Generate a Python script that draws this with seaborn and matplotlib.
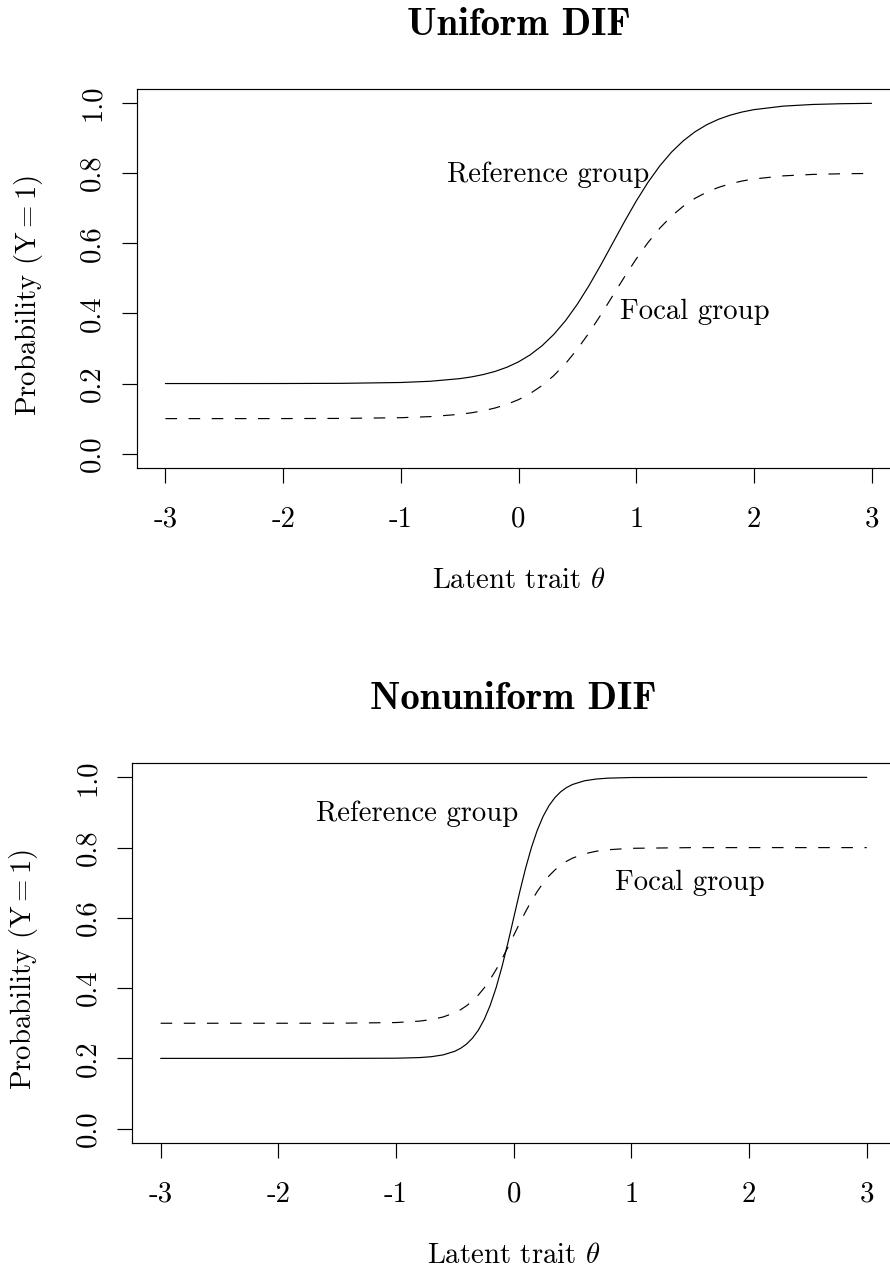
import matplotlib
matplotlib.use("Agg")
import matplotlib.pyplot as plt
import pandas as pd
import seaborn as sns

# Probability of Y=1 along the latent trait, for the two groups of each panel
theta_uniform = [-3.0, -2.5, -2.0, -1.5, -1.0, -0.75, -0.5, -0.4, -0.3, -0.2, -0.1,
                 0.0, 0.1, 0.2, 0.3, 0.4, 0.5, 0.6, 0.7, 0.8, 0.9, 1.0, 1.1, 1.2,
                 1.3, 1.4, 1.5, 1.6, 1.7, 1.8, 1.9, 2.0, 2.25, 2.5, 2.75, 3.0]
ref_uniform = [0.2000, 0.2000, 0.2001, 0.2006, 0.2030, 0.2065, 0.2140, 0.2189, 0.2256,
               0.2345, 0.2463, 0.2618, 0.2820, 0.3078, 0.3401, 0.3795, 0.4263, 0.4798,
               0.5385, 0.6000, 0.6615, 0.7202, 0.7737, 0.8205, 0.8599, 0.8922, 0.9180,
               0.9382, 0.9537, 0.9655, 0.9744, 0.9811, 0.9912, 0.9959, 0.9981, 0.9991]
foc_uniform = [0.1000, 0.1000, 0.1001, 0.1006, 0.1026, 0.1057, 0.1122, 0.1166, 0.1224,
               0.1302, 0.1405, 0.1541, 0.1717, 0.1943, 0.2226, 0.2571, 0.2981, 0.3448,
               0.3962, 0.4500, 0.5038, 0.5552, 0.6019, 0.6429, 0.6774, 0.7057, 0.7283,
               0.7459, 0.7595, 0.7698, 0.7776, 0.7834, 0.7923, 0.7964, 0.7983, 0.7992]

theta_nonuniform = [-3.0, -2.0, -1.5, -1.0, -0.8, -0.7, -0.6, -0.5, -0.45, -0.4, -0.35,
                    -0.3, -0.25, -0.2, -0.15, -0.1, -0.05, 0.0, 0.05, 0.1, 0.15, 0.2,
                    0.25, 0.3, 0.35, 0.4, 0.45, 0.5, 0.6, 0.7, 0.8, 1.0, 1.5, 2.0, 3.0]
ref_nonuniform = [0.2000, 0.2000, 0.2000, 0.2005, 0.2023, 0.2048, 0.2099, 0.2203, 0.2289,
                  0.2409, 0.2577, 0.2805, 0.3111, 0.3508, 0.4005, 0.4602, 0.5278, 0.6000,
                  0.6722, 0.7398, 0.7995, 0.8492, 0.8889, 0.9195, 0.9423, 0.9591, 0.9711,
                  0.9797, 0.9901, 0.9952, 0.9977, 0.9995, 1.0000, 1.0000, 1.0000]
foc_nonuniform = [0.3000, 0.3000, 0.3001, 0.3020, 0.3061, 0.3104, 0.3178, 0.3300, 0.3388,
                  0.3499, 0.3637, 0.3806, 0.4009, 0.4249, 0.4524, 0.4829, 0.5158, 0.5500,
                  0.5842, 0.6171, 0.6476, 0.6751, 0.6991, 0.7195, 0.7363, 0.7501, 0.7612,
                  0.7700, 0.7822, 0.7896, 0.7939, 0.7980, 0.7999, 0.8000, 0.8000]

groups = ["Reference group", "Focal group"]
x_ticks = [-3, -2, -1, 0, 1, 2, 3]
x_tick_labels = ["-3", "-2", "-1", "0", "1", "2", "3"]
y_ticks = [0.0, 0.2, 0.4, 0.6, 0.8, 1.0]
y_tick_labels = ["0.0", "0.2", "0.4", "0.6", "0.8", "1.0"]

sns.set_theme(style="white")
plt.rcParams["font.family"] = ["cmr10", "DejaVu Sans"]
plt.rcParams["mathtext.fontset"] = "cm"
plt.rcParams["axes.formatter.use_mathtext"] = True
plt.rcParams["axes.unicode_minus"] = False

FS = 20.7       # body text size (pt)
TITLE_FS = 27.8
LW = 0.85

panels = [
    dict(title="Uniform DIF", theta=theta_uniform, ref=ref_uniform, foc=foc_uniform,
         rect=[0.15416, 0.63173, 0.85685, 0.29819],
         ref_pos=(0.25, 0.776), foc_pos=(1.5, 0.384)),
    dict(title="Nonuniform DIF", theta=theta_nonuniform, ref=ref_nonuniform, foc=foc_nonuniform,
         rect=[0.14876, 0.10024, 0.85685, 0.29874],
         ref_pos=(-0.82, 0.875), foc_pos=(1.5, 0.68)),
]

fig = plt.figure(figsize=(8.9, 12.7), dpi=100)

for p in panels:
    ax = fig.add_axes(p["rect"])
    n = len(p["theta"])
    df = pd.DataFrame({
        "theta": p["theta"] + p["theta"],
        "prob": p["ref"] + p["foc"],
        "group": [groups[0]] * n + [groups[1]] * n,
    })
    sns.lineplot(data=df, x="theta", y="prob", style="group", style_order=groups,
                 dashes={groups[0]: "", groups[1]: (9.8, 9.8)},
                 color="black", linewidth=LW, estimator=None, legend=False, ax=ax)

    ax.set_xlim(-3.24, 3.24)
    ax.set_ylim(-0.04, 1.04)
    ax.set_xticks(x_ticks)
    ax.set_xticklabels(x_tick_labels)
    ax.set_yticks(y_ticks)
    ax.set_yticklabels(y_tick_labels, rotation=90, va="center")
    ax.tick_params(direction="out", length=10.8, width=LW, color="black",
                   labelcolor="black", labelsize=FS, left=True, bottom=True)
    ax.tick_params(axis="x", pad=17)
    ax.tick_params(axis="y", pad=11.8)
    for s in ax.spines.values():
        s.set_visible(True)
        s.set_color("black")
        s.set_linewidth(LW)

    ax.set_xlabel(r"Latent trait $\theta$", fontsize=FS, color="black")
    ax.xaxis.set_label_coords(0.5, -0.3177)
    ax.xaxis.label.set_va("baseline")
    ax.set_ylabel(r"Probability $(\mathrm{Y}=1)$", fontsize=FS, color="black")
    ax.yaxis.set_label_coords(-0.1432, 0.456)
    ax.yaxis.label.set_va("center")

    ax.set_title(p["title"], fontsize=TITLE_FS, fontfamily="cmb10", color="black",
                 y=1.1426, pad=0)

    ax.text(*p["ref_pos"], groups[0], ha="center", va="baseline", fontsize=FS, color="black")
    ax.text(*p["foc_pos"], groups[1], ha="center", va="baseline", fontsize=FS, color="black")

fig.savefig("out.png", dpi=100)
